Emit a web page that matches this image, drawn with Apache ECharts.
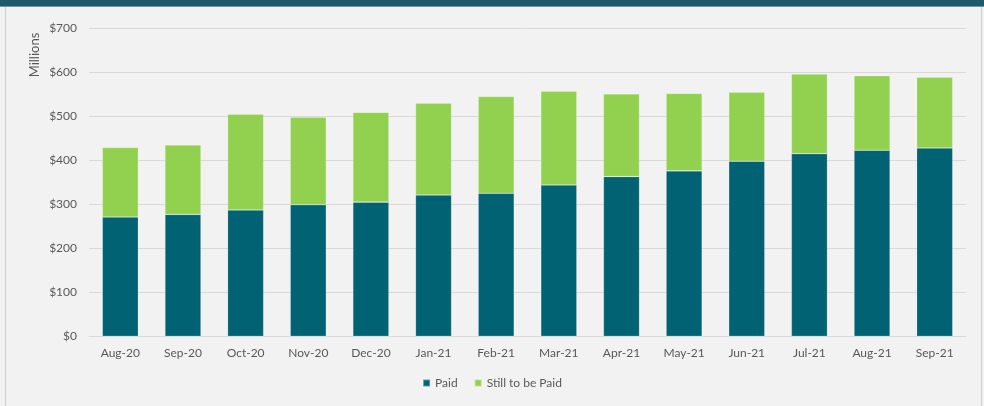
<!DOCTYPE html>
<html>
<head>
<meta charset="utf-8">
<script src="https://cdn.jsdelivr.net/npm/echarts@6/dist/echarts.min.js"></script>
<style>
  html, body { margin: 0; padding: 0; background: #f2f2f2; }
  #chart { width: 984px; height: 406px; }
</style>
</head>
<body>
<div id="chart"></div>
<script>
// Monthly amounts, in millions of dollars
const months = ['Aug-20', 'Sep-20', 'Oct-20', 'Nov-20', 'Dec-20', 'Jan-21', 'Feb-21',
                'Mar-21', 'Apr-21', 'May-21', 'Jun-21', 'Jul-21', 'Aug-21', 'Sep-21'];
const paid = [271, 277, 287, 299, 305, 321, 325, 344, 363, 376, 398, 415, 423, 428];
const stillToBePaid = [158, 158, 218, 199, 204, 209, 220, 213, 188, 176, 157, 181, 169, 161];
const yTicks = [0, 100, 200, 300, 400, 500, 600, 700];

const FONT = 'Lato, "Open Sans", sans-serif';
const TEXT = '#595959';

const chart = echarts.init(document.getElementById('chart'), null, { renderer: 'canvas' });

chart.setOption({
  backgroundColor: '#f2f2f2',
  animation: false,
  textStyle: { fontFamily: FONT },
  grid: { left: 89, right: 18, top: 28.3, bottom: 69.7, containLabel: false },
  legend: {
    bottom: 12,
    left: 'center',
    itemWidth: 7,
    itemHeight: 7,
    itemGap: 16,
    icon: 'rect',
    textStyle: { color: TEXT, fontSize: 12, fontFamily: FONT },
    data: ['Paid', 'Still to be Paid']
  },
  xAxis: {
    type: 'category',
    data: months,
    axisLine: { lineStyle: { color: '#d9d9d9', width: 1 } },
    axisTick: { show: false },
    axisLabel: { color: TEXT, fontSize: 12, margin: 11, fontFamily: FONT }
  },
  yAxis: {
    type: 'value',
    min: yTicks[0],
    max: yTicks[yTicks.length - 1],
    interval: 100,
    axisLine: { show: false },
    axisTick: { show: false },
    splitLine: { lineStyle: { color: '#d9d9d9', width: 1 } },
    axisLabel: {
      color: TEXT, fontSize: 12, margin: 12, fontFamily: FONT,
      formatter: v => '$' + v
    }
  },
  series: [
    {
      name: 'Paid',
      type: 'bar',
      stack: 'total',
      barWidth: 36,
      data: paid,
      itemStyle: { color: '#006272', borderColor: 'rgba(255,255,255,0.35)', borderWidth: 0.6 }
    },
    {
      name: 'Still to be Paid',
      type: 'bar',
      stack: 'total',
      barWidth: 36,
      data: stillToBePaid,
      itemStyle: { color: '#92d050', borderColor: 'rgba(255,255,255,0.35)', borderWidth: 0.6 }
    }
  ],
  graphic: [
    // dark header band
    { type: 'rect', shape: { x: 0, y: 0, width: 984, height: 6 }, style: { fill: '#1f5a6a' }, silent: true },
    { type: 'rect', shape: { x: 0, y: 6, width: 984, height: 1 }, style: { fill: '#6d97a3' }, silent: true },
    // side frame lines
    { type: 'rect', shape: { x: 5, y: 7, width: 1, height: 399 }, style: { fill: '#d0d0d0' }, silent: true },
    { type: 'rect', shape: { x: 981, y: 7, width: 1, height: 399 }, style: { fill: '#d0d0d0' }, silent: true },
    // axis title
    {
      type: 'text',
      x: 35,
      y: 55,
      rotation: Math.PI / 2,
      style: {
        text: 'Millions',
        fill: TEXT,
        font: '13px ' + FONT,
        align: 'center',
        verticalAlign: 'middle'
      }
    }
  ]
});
</script>
</body>
</html>
